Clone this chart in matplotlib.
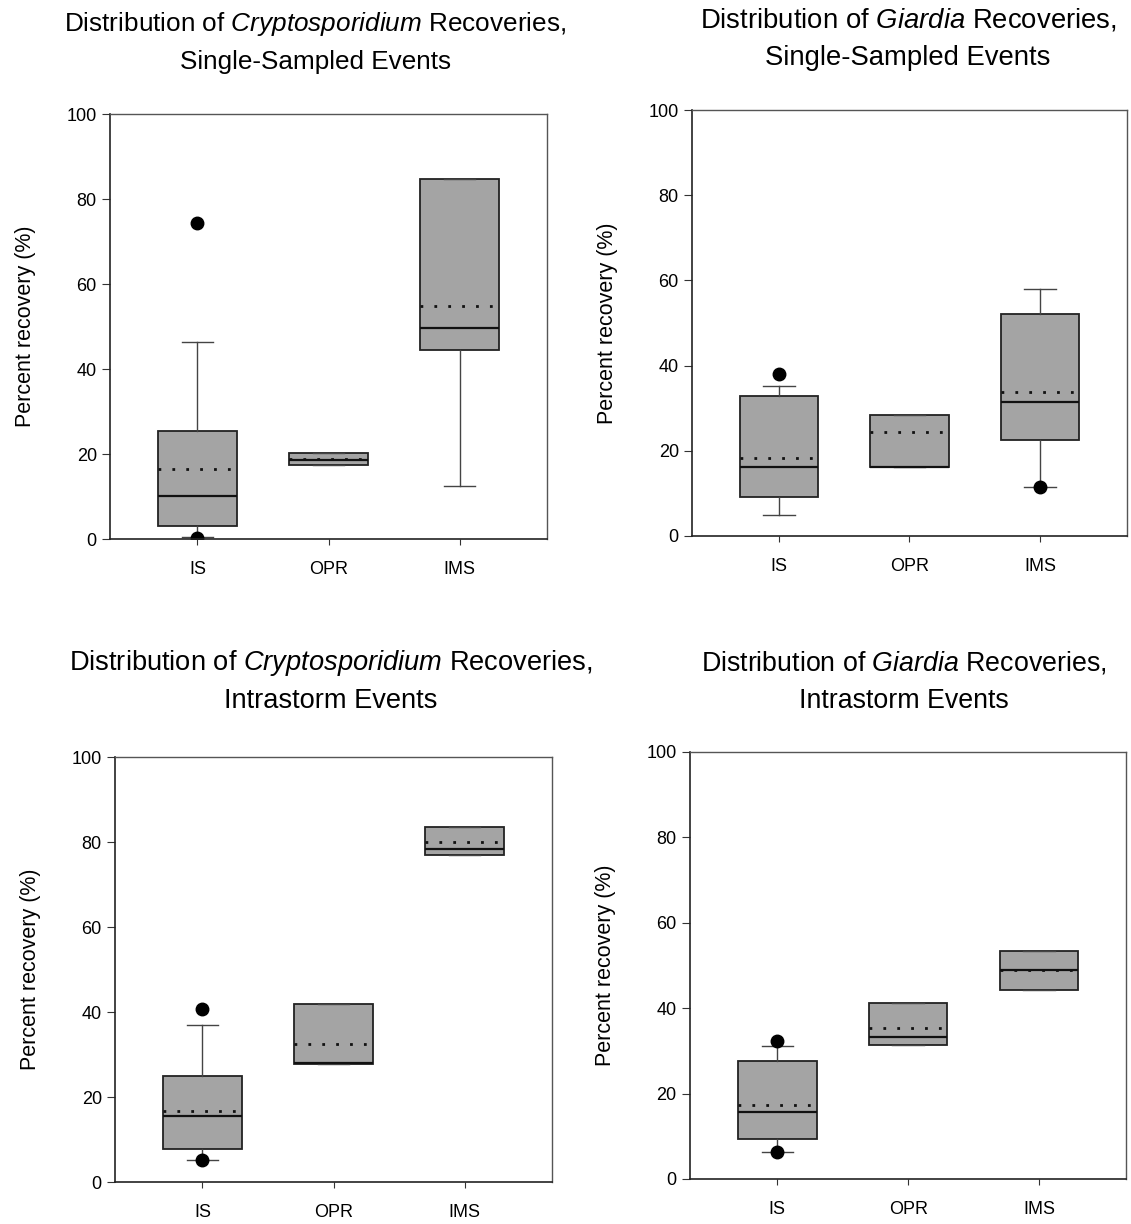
import matplotlib
matplotlib.use("Agg")
import matplotlib.pyplot as plt

plt.rcParams['font.family'] = ['Liberation Sans', 'DejaVu Sans']
plt.rcParams['mathtext.fontset'] = 'custom'
plt.rcParams['mathtext.rm'] = 'Liberation Sans'
plt.rcParams['mathtext.it'] = 'Liberation Sans:italic'

groups = ["IS", "OPR", "IMS"]

# one row per panel: crypto single, giardia single, crypto intrastorm, giardia intrastorm
q1 = [[3.1, 17.5, 44.6], [9.2, 16.1, 22.5], [7.8, 27.9, 77.1], [9.4, 31.3, 44.3]]
q3 = [[25.4, 20.2, 84.7], [32.9, 28.4, 52.1], [25.0, 41.8, 83.7], [27.5, 41.2, 53.3]]
med = [[10.1, 18.6, 49.7], [16.3, 16.1, 31.5], [15.6, 28.0, 78.4], [15.7, 33.2, 48.8]]
mean = [[16.4, 18.8, 54.8], [18.2, 24.3, 33.7], [16.8, 32.4, 80.0], [17.4, 35.4, 48.8]]
whis_lo = [[0.5, 17.5, 12.5], [4.9, 16.1, 11.4], [5.3, 27.9, 77.1], [6.2, 31.3, 44.3]]
whis_hi = [[46.4, 20.2, 84.7], [35.1, 28.4, 58.1], [36.9, 41.8, 83.7], [31.2, 41.2, 53.3]]
fliers = [[[74.5, 0.3], [], []], [[38.0], [], [11.4]], [[40.8, 5.3], [], []], [[32.2, 6.2], [], []]]

organisms = ["Cryptosporidium", "Giardia", "Cryptosporidium", "Giardia"]
events = ["Single-Sampled Events", "Single-Sampled Events", "Intrastorm Events", "Intrastorm Events"]

# axes rectangles in figure fraction
rects = [[0.0973, 0.5596, 0.3864, 0.347],
         [0.6118, 0.5621, 0.3846, 0.348],
         [0.1017, 0.0343, 0.3864, 0.347],
         [0.6100, 0.0368, 0.3860, 0.349]]
title_x = [0.47, 0.497, 0.493, 0.49]
title_y1 = [1.195, 1.194, 1.205, 1.19]
title_y2 = [1.106, 1.106, 1.115, 1.103]
title_size = [18.8, 19.8, 19.6, 19.3]

fig = plt.figure(figsize=(11.31, 12.24), dpi=100)

for p in range(4):
    ax = fig.add_axes(rects[p])
    stats = []
    for i in range(3):
        stats.append({"med": med[p][i], "q1": q1[p][i], "q3": q3[p][i],
                      "whislo": whis_lo[p][i], "whishi": whis_hi[p][i],
                      "mean": mean[p][i], "fliers": fliers[p][i]})
    ax.bxp(stats, positions=[1, 2, 3], widths=0.6, patch_artist=True,
           showmeans=True, meanline=True, capwidths=0.24,
           boxprops=dict(facecolor="#a4a4a4", edgecolor="#222222", linewidth=1.3),
           medianprops=dict(color="#111111", linewidth=1.6),
           meanprops=dict(color="#111111", linestyle=(0, (1, 4)), linewidth=2.0),
           whiskerprops=dict(color="#444444", linewidth=1.0),
           capprops=dict(color="#444444", linewidth=1.0),
           flierprops=dict(marker="o", markerfacecolor="black", markeredgecolor="black",
                           markersize=9))
    ax.set_xlim(0.333, 3.667)
    ax.set_ylim(0, 100)
    ax.set_yticks([0, 20, 40, 60, 80, 100])
    ax.set_xticks([1, 2, 3])
    ax.set_xticklabels(groups)
    ax.tick_params(direction="out", labelsize=13, length=6, color="#333333")
    ax.tick_params(axis="x", pad=12, length=4)
    ax.set_ylabel("Percent recovery (%)", fontsize=15.5, labelpad=22)
    for side in ["left", "bottom"]:
        ax.spines[side].set_color("#222222")
        ax.spines[side].set_linewidth(1.2)
    for side in ["top", "right"]:
        ax.spines[side].set_color("#555555")
        ax.spines[side].set_linewidth(1.0)

    ax.text(title_x[p], title_y1[p], "Distribution of $\\it{" + organisms[p] + "}$ Recoveries,",
            transform=ax.transAxes, ha="center", va="baseline", fontsize=title_size[p])
    ax.text(title_x[p], title_y2[p], events[p], transform=ax.transAxes, ha="center",
            va="baseline", fontsize=title_size[p])

fig.savefig("out.png", dpi=100)
